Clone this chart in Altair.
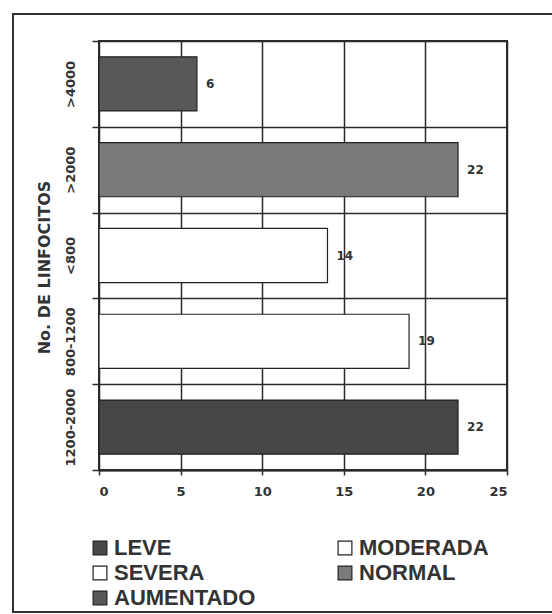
import altair as alt
import pandas as pd

# Lymphocyte-count groups (top to bottom), patients per group and severity class
grupos = [">4000", ">2000", "<800", "800-1200", "1200-2000"]
pacientes = [6, 22, 14, 19, 22]
clase = ["AUMENTADO", "NORMAL", "SEVERA", "MODERADA", "LEVE"]

# Legend entries are laid out column by column (3 rows x 2 columns),
# so this order reads LEVE / MODERADA, SEVERA / NORMAL, AUMENTADO across rows
orden_leyenda = ["LEVE", "SEVERA", "AUMENTADO", "MODERADA", "NORMAL"]
rellenos = ["#474747", "#ffffff", "#585858", "#ffffff", "#7a7a7a"]

ticks_x = [0, 5, 10, 15, 20, 25]

df = pd.DataFrame({"grupo": grupos, "n": pacientes, "clase": clase})

W, H = 408, 429
LINEA = "#2b2b2b"
FUENTE_EJES = "DejaVu Sans"

x_enc = alt.X(
    "n:Q",
    scale=alt.Scale(domain=[0, 25], nice=False),
    axis=alt.Axis(
        values=ticks_x, title=None, grid=True, gridColor=LINEA, gridWidth=1.5,
        gridOpacity=1, domain=True, domainColor=LINEA, domainWidth=2,
        tickColor=LINEA, tickSize=5, tickWidth=1.5,
        labelFont=FUENTE_EJES, labelFontWeight="bold", labelFontSize=13,
        labelColor="#333", labelPadding=10,
    ),
)

y_enc = alt.Y(
    "grupo:N",
    sort=grupos,
    scale=alt.Scale(paddingInner=0, paddingOuter=0),
    axis=alt.Axis(
        title="No. DE LINFOCITOS", titleFont=FUENTE_EJES, titleFontWeight="bold",
        titleFontSize=16, titleColor="#333", titlePadding=12, titleY=226,
        labelAngle=-90, labelAlign="center", labelBaseline="bottom",
        labelFont=FUENTE_EJES, labelFontWeight="bold", labelFontSize=13,
        labelColor="#333", labelPadding=15,
        tickBand="extent", grid=True, gridColor=LINEA, gridWidth=1.5, gridOpacity=1,
        tickColor=LINEA, tickSize=7, tickWidth=1.5, domain=False,
    ),
)

barras = alt.Chart(df).mark_bar(
    height=alt.RelativeBandSize(0.63), stroke="#222", strokeWidth=1.2
).encode(
    x=x_enc,
    y=y_enc,
    fill=alt.Fill(
        "clase:N",
        scale=alt.Scale(domain=orden_leyenda, range=rellenos),
        legend=alt.Legend(
            title=None, orient="none", legendX=-10, legendY=496, columns=2,
            columnPadding=78, rowPadding=3, symbolType="square", symbolSize=190,
            symbolStrokeColor="#222", symbolStrokeWidth=1.2, symbolOffset=0,
            labelFont="Liberation Sans", labelFontWeight="bold", labelFontSize=22,
            labelColor="#333", labelOffset=3, labelLimit=300,
        ),
    ),
)

etiquetas = alt.Chart(df).mark_text(
    align="left", baseline="middle", dx=9, font=FUENTE_EJES,
    fontWeight="bold", fontSize=12, color="#333",
).encode(
    x="n:Q",
    y=alt.Y("grupo:N", sort=grupos),
    text="n:Q",
)

# Outer frame around the whole figure (open on the right edge)
marco = alt.Chart(alt.Data(values=[{}])).mark_rect(
    fill=None, stroke="#333", strokeWidth=2
).encode(
    x=alt.value(-86), x2=alt.value(520), y=alt.value(-27), y2=alt.value(571)
)

chart = (
    alt.layer(barras, etiquetas, marco)
    .properties(
        width=W, height=H,
        autosize=alt.AutoSizeParams(type="none"),
        padding={"left": 99, "top": 41, "right": 552 - 99 - W, "bottom": 614 - 41 - H},
        background="white",
    )
    .configure_view(stroke=LINEA, strokeWidth=2)
)

chart.save("out.html", embed_options={"renderer": "svg", "actions": False})
